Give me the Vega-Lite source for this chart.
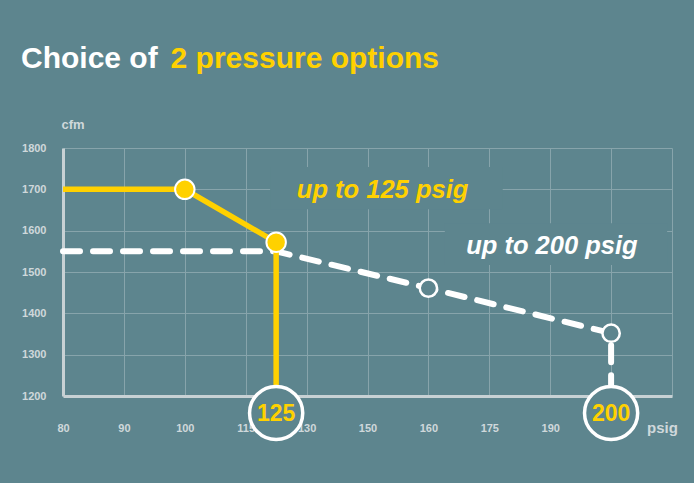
{
  "$schema": "https://vega.github.io/schema/vega-lite/v6.json",
  "width": 609,
  "height": 248,
  "autosize": {"type": "none"},
  "padding": {"left": 63, "top": 148, "right": 22, "bottom": 87},
  "background": "#5d858e",
  "config": {
    "view": {"stroke": null},
    "axis": {
      "labelFont": "Liberation Sans",
      "labelFontWeight": "bold",
      "labelFontSize": 11,
      "labelColor": "#cfd8db",
      "titleFont": "Liberation Sans",
      "titleFontWeight": "bold",
      "titleColor": "#cfd8db",
      "gridColor": "#87a4ab",
      "gridWidth": 1,
      "gridOpacity": 1,
      "domainColor": "#c7d1d4",
      "domainWidth": 3,
      "tickSize": 0,
      "ticks": false
    }
  },
  "datasets": {
    "lines": [
      {"series": "up to 125 psig", "psig": 80, "pos": 0, "cfm": 1700, "seq": 1},
      {"series": "up to 125 psig", "psig": 100, "pos": 2, "cfm": 1700, "seq": 2},
      {"series": "up to 125 psig", "psig": 125, "pos": 3.5, "cfm": 1572, "seq": 3},
      {"series": "up to 125 psig", "psig": 125, "pos": 3.5, "cfm": 1200, "seq": 4},
      {"series": "up to 200 psig", "psig": 80, "pos": 0, "cfm": 1550, "seq": 1},
      {"series": "up to 200 psig", "psig": 125, "pos": 3.5, "cfm": 1550, "seq": 2},
      {"series": "up to 200 psig", "psig": 160, "pos": 6, "cfm": 1461, "seq": 3},
      {"series": "up to 200 psig", "psig": 200, "pos": 9, "cfm": 1352, "seq": 4},
      {"series": "up to 200 psig", "psig": 200, "pos": 9, "cfm": 1200, "seq": 5}
    ],
    "points": [
      {"series": "up to 125 psig", "psig": 100, "pos": 2, "cfm": 1700},
      {"series": "up to 125 psig", "psig": 125, "pos": 3.5, "cfm": 1572},
      {"series": "up to 200 psig", "psig": 160, "pos": 6, "cfm": 1461},
      {"series": "up to 200 psig", "psig": 200, "pos": 9, "cfm": 1352}
    ],
    "markers": [
      {"psig": "125", "pos": 3.5, "cfm": 1200},
      {"psig": "200", "pos": 9, "cfm": 1200}
    ],
    "one": [{}]
  },
  "layer": [
    {
      "data": {"name": "markers"},
      "mark": {"type": "rule", "opacity": 0},
      "encoding": {
        "x": {
          "field": "pos",
          "type": "quantitative",
          "scale": {"domain": [0, 10], "nice": false, "zero": false},
          "axis": {
            "values": [0, 1, 2, 3, 4, 5, 6, 7, 8, 9, 10],
            "grid": true,
            "labelPadding": 26,
            "labelExpr": "['80','90','100','115','130','150','160','175','190','',''][datum.value]",
            "title": "psig",
            "titleFontSize": 15,
            "titleX": 599,
            "titleY": 31,
            "titleAlign": "center",
            "titleBaseline": "middle",
            "labelFlush": false,
            "labelOverlap": false
          }
        },
        "y": {
          "field": "cfm",
          "type": "quantitative",
          "scale": {"domain": [1200, 1800], "nice": false, "zero": false},
          "axis": {
            "values": [1200, 1300, 1400, 1500, 1600, 1700, 1800],
            "format": "d",
            "grid": true,
            "labelPadding": 17,
            "title": "cfm",
            "titleFontSize": 13,
            "titleAngle": 0,
            "titleX": -2,
            "titleY": -24,
            "titleAlign": "left",
            "titleBaseline": "middle",
            "labelFlush": false
          }
        }
      }
    },
    {
      "data": {"name": "one"},
      "mark": {"type": "rect", "color": "#5d858e"},
      "encoding": {
        "x": {"datum": 3.4, "type": "quantitative"},
        "x2": {"datum": 7.22},
        "y": {"datum": 1652, "type": "quantitative"},
        "y2": {"datum": 1754}
      }
    },
    {
      "data": {"name": "one"},
      "mark": {"type": "rect", "color": "#5d858e"},
      "encoding": {
        "x": {"datum": 6.27, "type": "quantitative"},
        "x2": {"datum": 9.92},
        "y": {"datum": 1517, "type": "quantitative"},
        "y2": {"datum": 1618}
      }
    },
    {
      "data": {"name": "lines"},
      "transform": [{"filter": "datum.series == 'up to 200 psig'"}],
      "mark": {"type": "line", "color": "white", "strokeWidth": 6, "strokeDash": [17, 13], "strokeCap": "round", "clip": false},
      "encoding": {
        "x": {"field": "pos", "type": "quantitative"},
        "y": {"field": "cfm", "type": "quantitative"},
        "order": {"field": "seq"}
      }
    },
    {
      "data": {"name": "lines"},
      "transform": [{"filter": "datum.series == 'up to 125 psig'"}],
      "mark": {"type": "line", "color": "#ffd100", "strokeWidth": 5.5, "clip": false},
      "encoding": {
        "x": {"field": "pos", "type": "quantitative"},
        "y": {"field": "cfm", "type": "quantitative"},
        "order": {"field": "seq"}
      }
    },
    {
      "data": {"name": "markers"},
      "mark": {"type": "point", "shape": "circle", "filled": true, "fill": "#5d858e", "stroke": "white", "strokeWidth": 3.5, "size": 2827, "opacity": 1, "yOffset": 17, "clip": false},
      "encoding": {
        "x": {"field": "pos", "type": "quantitative"},
        "y": {"field": "cfm", "type": "quantitative"}
      }
    },
    {
      "data": {"name": "markers"},
      "mark": {"type": "text", "color": "#ffd100", "font": "Liberation Sans", "fontWeight": "bold", "fontSize": 23, "baseline": "middle", "align": "center", "yOffset": 18, "clip": false},
      "encoding": {
        "x": {"field": "pos", "type": "quantitative"},
        "y": {"field": "cfm", "type": "quantitative"},
        "text": {"field": "psig"}
      }
    },
    {
      "data": {"name": "points"},
      "transform": [{"filter": "datum.series == 'up to 200 psig'"}],
      "mark": {"type": "point", "shape": "circle", "filled": true, "fill": "#5d858e", "stroke": "white", "strokeWidth": 2.5, "size": 300, "opacity": 1},
      "encoding": {
        "x": {"field": "pos", "type": "quantitative"},
        "y": {"field": "cfm", "type": "quantitative"}
      }
    },
    {
      "data": {"name": "points"},
      "transform": [{"filter": "datum.series == 'up to 125 psig'"}],
      "mark": {"type": "point", "shape": "circle", "filled": true, "fill": "#ffd100", "stroke": "white", "strokeWidth": 2, "size": 380, "opacity": 1},
      "encoding": {
        "x": {"field": "pos", "type": "quantitative"},
        "y": {"field": "cfm", "type": "quantitative"}
      }
    },
    {
      "data": {"name": "one"},
      "mark": {"type": "text", "text": "up to 125 psig", "color": "#ffd100", "font": "Liberation Sans", "fontWeight": "bold", "fontStyle": "italic", "fontSize": 25.5, "align": "left", "baseline": "alphabetic"},
      "encoding": {
        "x": {"datum": 3.84, "type": "quantitative"},
        "y": {"datum": 1679, "type": "quantitative"}
      }
    },
    {
      "data": {"name": "one"},
      "mark": {"type": "text", "text": "up to 200 psig", "color": "white", "font": "Liberation Sans", "fontWeight": "bold", "fontStyle": "italic", "fontSize": 25.5, "align": "left", "baseline": "alphabetic"},
      "encoding": {
        "x": {"datum": 6.62, "type": "quantitative"},
        "y": {"datum": 1543, "type": "quantitative"}
      }
    },
    {
      "data": {"name": "one"},
      "mark": {"type": "text", "text": "Choice of", "color": "white", "font": "Liberation Sans", "fontWeight": "bold", "fontSize": 30, "align": "left", "baseline": "alphabetic", "clip": false},
      "encoding": {
        "x": {"datum": -0.69, "type": "quantitative"},
        "y": {"datum": 1994, "type": "quantitative"}
      }
    },
    {
      "data": {"name": "one"},
      "mark": {"type": "text", "text": "2 pressure options", "color": "#ffd100", "font": "Liberation Sans", "fontWeight": "bold", "fontSize": 30, "align": "right", "baseline": "alphabetic", "clip": false},
      "encoding": {
        "x": {"datum": 6.174, "type": "quantitative"},
        "y": {"datum": 1994, "type": "quantitative"}
      }
    }
  ]
}
